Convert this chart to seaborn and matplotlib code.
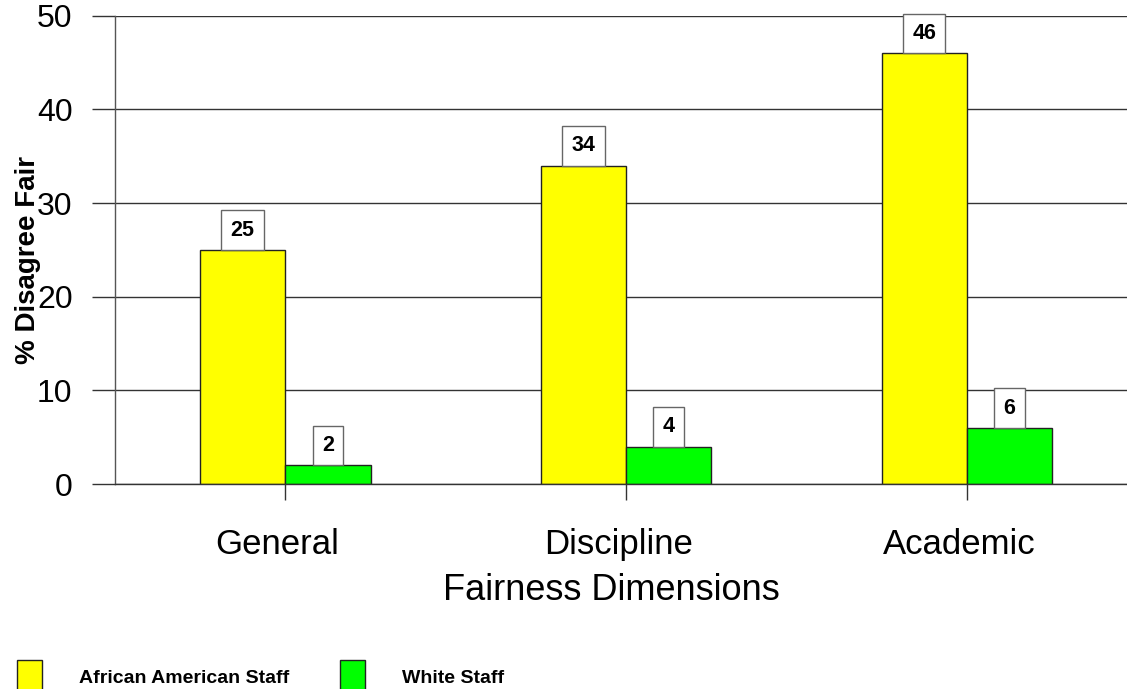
import pandas as pd
import matplotlib.pyplot as plt
import matplotlib.transforms as mtransforms
import seaborn as sns

# Values
dimensions = ["General", "Discipline", "Academic"]
african_american = [25, 34, 46]
white = [2, 4, 6]
groups = ["African American Staff", "White Staff"]
colors = ["#FFFF00", "#00FF00"]
y_ticks = [0, 10, 20, 30, 40, 50]

sns.set_style("white")
plt.rcParams['font.family'] = ['Liberation Sans', 'DejaVu Sans']
plt.rcParams.update({
    "text.color": "black",
    "axes.labelcolor": "black",
    "xtick.labelcolor": "black",
    "ytick.labelcolor": "black",
})

df = pd.DataFrame({
    "dimension": dimensions * 2,
    "pct": african_american + white,
    "group": [groups[0]] * len(dimensions) + [groups[1]] * len(dimensions),
})

fig = plt.figure(figsize=(11.27, 6.89), dpi=100)
ax = fig.add_axes([0.102, 0.2975, 0.898, 0.6795])

sns.barplot(
    data=df, x="dimension", y="pct", hue="group",
    order=dimensions, hue_order=groups,
    palette=colors, saturation=1, width=0.5, gap=0,
    edgecolor="#222222", linewidth=1, ax=ax,
)

# Boxed value labels sitting on top of each bar
label_size = 15.5
box_pad = 0.43
for container in ax.containers:
    ax.bar_label(
        container, fmt="%d", fontsize=label_size, fontweight="bold",
        padding=box_pad * label_size,
        bbox=dict(boxstyle=f"square,pad={box_pad}", fc="white", ec="#666666", lw=1),
    )

ax.set_ylim(0, 50)
ax.set_xlim(-0.5, 2.47)
ax.set_yticks(y_ticks)
ax.yaxis.grid(True, color="#333333", lw=1)
ax.set_axisbelow(True)

for side in ["top", "right"]:
    ax.spines[side].set_visible(False)
ax.spines["left"].set_color("#555555")
ax.spines["left"].set_linewidth(1)
ax.spines["bottom"].set_color("#333333")
ax.spines["bottom"].set_linewidth(1)

ax.tick_params(axis="y", left=True, length=16.5, width=1, color="#333333",
               pad=14, labelsize=23)
ax.tick_params(axis="x", bottom=True, length=11.5, width=1, color="#333333",
               pad=20, labelsize=25)

# category names sit a little left of their tick in the original
shift = mtransforms.ScaledTranslation(-8 / 100, 0, fig.dpi_scale_trans)
for lab in ax.get_xticklabels():
    lab.set_transform(lab.get_transform() + shift)

ax.set_ylabel("% Disagree Fair", fontsize=20, fontweight="bold")
ax.yaxis.set_label_coords(-0.073, 0.479)
ax.set_xlabel("Fairness Dimensions", fontsize=26)
ax.xaxis.set_label_coords(0.491, -0.19)

sns.move_legend(
    ax, "upper left", bbox_to_anchor=(0.015, 0.042),
    bbox_transform=fig.transFigure, ncol=2, frameon=False, title=None,
    prop={"weight": "bold", "size": 14},
    handlelength=1.3, handleheight=2.35, handletextpad=1.9,
    columnspacing=2.6, borderpad=0, borderaxespad=0,
)

plt.savefig("out.png", dpi=100)
plt.close()
